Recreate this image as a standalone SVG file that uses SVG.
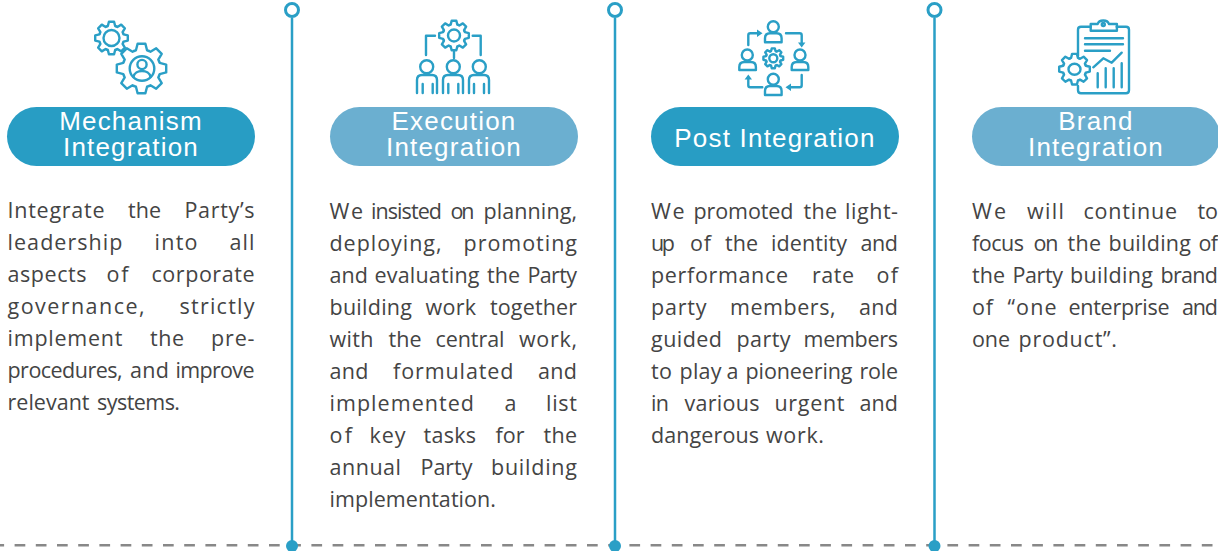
<svg xmlns="http://www.w3.org/2000/svg" xmlns:xlink="http://www.w3.org/1999/xlink" width="1218" height="551" viewBox="0 0 1218 551">
<style>
.p{font:21.500px "Open Sans","Noto Sans",sans-serif;fill:#444}
.h{font:26px "Liberation Sans",Arial,sans-serif;fill:#fff;text-anchor:middle;letter-spacing:1.2px}
.i{fill:none;stroke:#2a9fc6;stroke-width:2.4;stroke-linecap:round;stroke-linejoin:round}
.s{vector-effect:non-scaling-stroke}
.a{fill:#289dc4}.b{fill:#6bafd0}
.v{stroke:#2a9fc6;stroke-width:2.5;fill:none}
.t{fill:#2a9fc6;stroke:none}
</style>
<defs>
<path id="tooth" class="s" d="M-29.100 -70.200L-22.200 -72.700L-15.600 -98.800H15.600L22.200 -72.700L29.100 -70.200"/>
<g id="gear"><use xlink:href="#tooth"/><use xlink:href="#tooth" transform="rotate(45)"/><use xlink:href="#tooth" transform="rotate(90)"/><use xlink:href="#tooth" transform="rotate(135)"/><use xlink:href="#tooth" transform="rotate(180)"/><use xlink:href="#tooth" transform="rotate(225)"/><use xlink:href="#tooth" transform="rotate(270)"/><use xlink:href="#tooth" transform="rotate(315)"/></g>
</defs>
<rect width="1218" height="551" fill="#fff"/>
<g id="connectors">
<path d="M0 545.200H1218" stroke="#888" stroke-width="2.500" stroke-dasharray="10.700 10.500" stroke-dashoffset="6.600" fill="none"/>
<path class="v" d="M292 18V545M615 18V545M934.500 18V545"/>
<g fill="#fff" stroke="#2a9fc6" stroke-width="3"><circle cx="292" cy="10" r="6.500"/><circle cx="615" cy="10" r="6.500"/><circle cx="934.500" cy="10" r="6.500"/></g>
<g fill="#2a9fc6"><circle cx="292" cy="546" r="6"/><circle cx="615" cy="546" r="6"/><circle cx="934.500" cy="546" r="6"/></g>
</g>
<g id="mechanism">
<g class="i"><use xlink:href="#gear" transform="translate(111.500 38) scale(.165)"/><circle cx="111.500" cy="38" r="8"/><use xlink:href="#gear" transform="translate(141.500 68.500) scale(.25)"/><circle cx="142" cy="68.500" r="12.300"/><circle cx="142" cy="64.500" r="4.600"/><path d="M133.500 77c1-8 16-8 17 0"/></g>
<rect class="a" x="7" y="107" width="248" height="59" rx="29.500"/>
<text class="h"><tspan x="131" y="130">Mechanism</tspan><tspan x="131" y="156">Integration</tspan></text>
<text class="p" y="217.500"><tspan x="7.500" textLength="97">Integrate</tspan><tspan x="128" textLength="33">the</tspan><tspan x="184.500" textLength="70">Party’s</tspan></text>
<text class="p" y="249.500"><tspan x="7.500" textLength="115">leadership</tspan><tspan x="154.500" textLength="43">into</tspan><tspan x="229.500" textLength="25">all</tspan></text>
<text class="p" y="281.500"><tspan x="7.500" textLength="79">aspects</tspan><tspan x="106.500" textLength="22">of</tspan><tspan x="151.500" textLength="103">corporate</tspan></text>
<text class="p" y="313.500"><tspan x="7.500" textLength="137">governance,</tspan><tspan x="179.500" textLength="75">strictly</tspan></text>
<text class="p" y="345.500"><tspan x="7.500" textLength="115">implement</tspan><tspan x="150" textLength="34">the</tspan><tspan x="211" textLength="43.500">pre-</tspan></text>
<text class="p" y="377.500"><tspan x="7.500" textLength="115">procedures,</tspan><tspan x="130" textLength="39">and</tspan><tspan x="175.500" textLength="79">improve</tspan></text>
<text class="p" y="409.500"><tspan x="7.500" textLength="82">relevant</tspan><tspan x="97" textLength="83">systems.</tspan></text>
</g>
<g id="execution">
<g class="i"><use xlink:href="#gear" transform="translate(454 35.500) scale(.15)"/><circle cx="454" cy="35.500" r="6"/><path d="M435 35.700H426V55M472.700 35.700H480.700V55M454 51.700V58"/><circle cx="426.700" cy="66.700" r="6.500"/><circle cx="453.300" cy="66.700" r="6.500"/><circle cx="479.300" cy="66.700" r="6.500"/><path d="M417 93V80q0-5 5-5h10q5 0 5 5V93M443 93V80q0-5 5-5h10q5 0 5 5V93M469 93V80q0-5 5-5h10q5 0 5 5V93M422.700 84V93M432.700 84V93M448.300 84V93M458.300 84V93M474 84V93M484 84V93"/></g>
<rect class="b" x="330" y="107" width="248" height="59" rx="29.500"/>
<text class="h"><tspan x="454" y="130">Execution</tspan><tspan x="454" y="156">Integration</tspan></text>
<g transform="translate(0 .7)">
<text class="p" y="218"><tspan x="329.500" textLength="33.500">We</tspan><tspan x="371" textLength="71">insisted</tspan><tspan x="450.500" textLength="24">on</tspan><tspan x="483.500" textLength="93.500">planning,</tspan></text>
<text class="p" y="250"><tspan x="329.500" textLength="112">deploying,</tspan><tspan x="463.500" textLength="113.500">promoting</tspan></text>
<text class="p" y="282"><tspan x="329.500" textLength="38.500">and</tspan><tspan x="374.500" textLength="105">evaluating</tspan><tspan x="487" textLength="33">the</tspan><tspan x="527.500" textLength="49.500">Party</tspan></text>
<text class="p" y="314"><tspan x="329.500" textLength="82.500">building</tspan><tspan x="425.500" textLength="50.500">work</tspan><tspan x="490" textLength="87">together</tspan></text>
<text class="p" y="346"><tspan x="329.500" textLength="44">with</tspan><tspan x="388.500" textLength="33">the</tspan><tspan x="435.500" textLength="69">central</tspan><tspan x="519" textLength="58">work,</tspan></text>
<text class="p" y="378"><tspan x="329.500" textLength="39">and</tspan><tspan x="393" textLength="120.500">formulated</tspan><tspan x="538" textLength="39">and</tspan></text>
<text class="p" y="410"><tspan x="329.500" textLength="144.500">implemented</tspan><tspan x="504.500" textLength="11">a</tspan><tspan x="546" textLength="31">list</tspan></text>
<text class="p" y="442"><tspan x="329.500" textLength="22.500">of</tspan><tspan x="369.500" textLength="36">key</tspan><tspan x="423.500" textLength="52.500">tasks</tspan><tspan x="495.500" textLength="29">for</tspan><tspan x="543.500" textLength="33.500">the</tspan></text>
<text class="p" y="474"><tspan x="329.500" textLength="71.500">annual</tspan><tspan x="420.500" textLength="52">Party</tspan><tspan x="491" textLength="86">building</tspan></text>
<text class="p" y="506"><tspan x="329.500" textLength="166.500">implementation.</tspan></text>
</g>
</g>
<g id="post">
<g class="i"><use xlink:href="#gear" transform="translate(773.300 58.300) scale(.1)"/><circle cx="773.300" cy="58.300" r="4"/><circle cx="773.300" cy="26.700" r="5.500"/><path d="M765 42.300v-4q0-5 5-5h6.600q5 0 5 5v4z"/><circle cx="747.300" cy="55" r="5.500"/><path d="M739.300 70v-3q0-5 5-5h6.600q5 0 5 5v3z"/><circle cx="800" cy="55" r="5.500"/><path d="M791.700 70v-3q0-5 5-5h6.600q5 0 5 5v3z"/><circle cx="773.300" cy="79.300" r="5.500"/><path d="M765 95v-4q0-5 5-5h6.600q5 0 5 5v4z"/><path d="M748.300 45V35.300q0-2 2-2H758M786 33.300h13.700q2 0 2 2V43M801.700 75v10.300q0 2-2 2H790M762.300 87.300H750.300q-2 0-2-2V79"/></g>
<path class="t" d="M757 29.500L762.500 33.300L757 37ZM798 42.500L801.700 47.500L805.400 42.500ZM791 83.500L785.500 87.300L791 91ZM744.600 79.500L748.300 74.500L752 79.500Z"/>
<rect class="a" x="651" y="107" width="248" height="59" rx="29.500"/>
<text class="h" x="775" y="147">Post Integration</text>
<g transform="translate(0 .7)">
<text class="p" y="218.300"><tspan x="651" textLength="33.500">We</tspan><tspan x="693.500" textLength="100">promoted</tspan><tspan x="803.500" textLength="33.500">the</tspan><tspan x="845" textLength="53">light-</tspan></text>
<text class="p" y="250.300"><tspan x="651" textLength="24">up</tspan><tspan x="690" textLength="21">of</tspan><tspan x="725" textLength="33">the</tspan><tspan x="771" textLength="76">identity</tspan><tspan x="860.500" textLength="37.500">and</tspan></text>
<text class="p" y="282.300"><tspan x="651" textLength="137">performance</tspan><tspan x="812" textLength="42">rate</tspan><tspan x="876.500" textLength="21.500">of</tspan></text>
<text class="p" y="314.300"><tspan x="651" textLength="55.500">party</tspan><tspan x="730" textLength="105.500">members,</tspan><tspan x="859" textLength="39">and</tspan></text>
<text class="p" y="346.300"><tspan x="651" textLength="71">guided</tspan><tspan x="736.500" textLength="54">party</tspan><tspan x="803.500" textLength="94.500">members</tspan></text>
<text class="p" y="378.300"><tspan x="651" textLength="21">to</tspan><tspan x="679.500" textLength="42">play</tspan><tspan x="726.500" textLength="11">a</tspan><tspan x="745.500" textLength="107">pioneering</tspan><tspan x="859.500" textLength="38.500">role</tspan></text>
<text class="p" y="410.300"><tspan x="651" textLength="18">in</tspan><tspan x="684.500" textLength="75">various</tspan><tspan x="774.500" textLength="70">urgent</tspan><tspan x="859.500" textLength="38.500">and</tspan></text>
<text class="p" y="442.300"><tspan x="651" textLength="108">dangerous</tspan><tspan x="766" textLength="58">work.</tspan></text>
</g>
</g>
<g id="brand">
<g class="i"><path d="M1090.700 26.700H1081q-3 0-3 3V56M1116.700 26.700H1126q3 0 3 3V90.300q0 3-3 3H1081q-3 0-3-3V86"/><path d="M1090.700 30.700V24h7q1-3.500 5.600-3.500t5.600 3.500h8V30.700Z"/><path d="M1085 38.300H1123M1085 44.300H1123M1085 50.700H1110M1093.300 67.300L1103.300 58.300L1111.700 62.700L1121.700 52.700M1097.700 73.300V87.300M1105.700 68.300V87.300M1113.700 68.300V87.300M1121.700 63.300V87.300"/><circle cx="1103.300" cy="24.500" r="1.500"/><use xlink:href="#gear" transform="translate(1074.500 69.200) scale(.155)"/><ellipse cx="1074.500" cy="69.200" rx="6" ry="5.500"/></g>
<rect class="b" x="972" y="107" width="248" height="59" rx="29.500"/>
<text class="h"><tspan x="1096" y="130">Brand</tspan><tspan x="1096" y="156">Integration</tspan></text>
<g transform="translate(0 .7)">
<text class="p" y="218.300"><tspan x="972" textLength="34">We</tspan><tspan x="1027" textLength="37">will</tspan><tspan x="1083.500" textLength="93.500">continue</tspan><tspan x="1197.500" textLength="20.500">to</tspan></text>
<text class="p" y="250.300"><tspan x="972" textLength="52">focus</tspan><tspan x="1033.500" textLength="25">on</tspan><tspan x="1067.500" textLength="33.500">the</tspan><tspan x="1108.500" textLength="82.500">building</tspan><tspan x="1198.500" textLength="19.500">of</tspan></text>
<text class="p" y="282.300"><tspan x="972" textLength="33">the</tspan><tspan x="1012.500" textLength="50.500">Party</tspan><tspan x="1070" textLength="83">building</tspan><tspan x="1160.500" textLength="57.500">brand</tspan></text>
<text class="p" y="314.300"><tspan x="972" textLength="21">of</tspan><tspan x="1007.500" textLength="49">“one</tspan><tspan x="1068.500" textLength="101">enterprise</tspan><tspan x="1182" textLength="36">and</tspan></text>
<text class="p" y="346.300"><tspan x="972" textLength="38">one</tspan><tspan x="1018.500" textLength="98.500">product”.</tspan></text>
</g>
</g>
</svg>
